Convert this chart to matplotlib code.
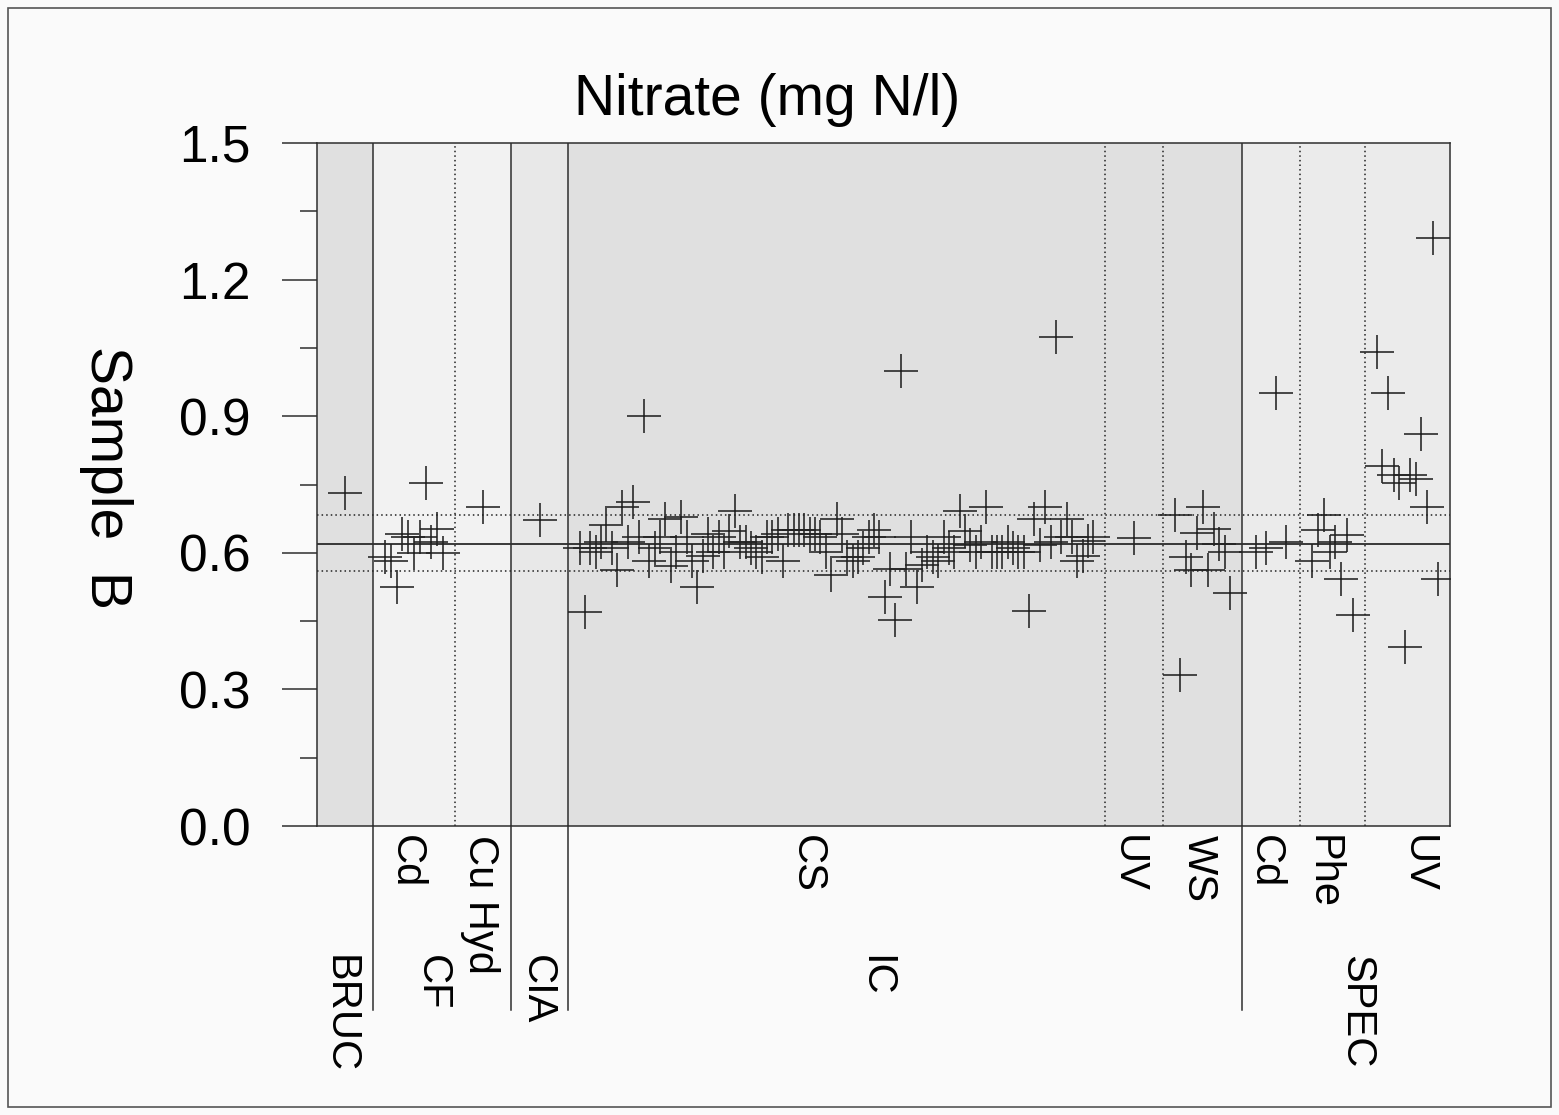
import matplotlib
matplotlib.use('Agg')
import matplotlib.pyplot as plt
import matplotlib.transforms as mtransforms
from matplotlib.patches import Rectangle
import numpy as np

plt.rcParams['font.family'] = ['Liberation Sans', 'DejaVu Sans']

# ---------------- data ----------------
title = 'Nitrate (mg N/l)'
ylabel = 'Sample  B'
group_names = ['BRUC', 'CF', 'CIA', 'IC', 'SPEC']
sub_groups = ['BRUC', 'CF', 'CF', 'CIA', 'IC', 'IC', 'IC', 'SPEC', 'SPEC', 'SPEC']
sub_labels = ['', 'Cd', 'Cu Hyd', '', 'CS', 'UV', 'WS', 'Cd', 'Phe', 'UV']

values_bruc = [0.732]
values_cf_cd = [0.590, 0.582, 0.525, 0.641, 0.635, 0.600, 0.635, 0.753, 0.624, 0.652, 0.600]
values_cf_cuhyd = [0.701]
values_cia = [0.672]
values_ic_cs = [0.611, 0.470, 0.611, 0.601, 0.624, 0.661, 0.611, 0.563, 0.701, 0.624,
                0.711, 0.634, 0.900, 0.583, 0.611, 0.634, 0.674, 0.571, 0.602, 0.679,
                0.634, 0.582, 0.524, 0.593, 0.641, 0.602, 0.634, 0.602, 0.648, 0.692,
                0.624, 0.624, 0.611, 0.601, 0.591, 0.634, 0.634, 0.641, 0.583, 0.650,
                0.650, 0.650, 0.650, 0.641, 0.641, 0.634, 0.601, 0.551, 0.674, 0.641,
                0.591, 0.582, 0.591, 0.611, 0.634, 0.650, 0.634, 0.503, 0.564, 0.453,
                1.000, 0.564, 0.634, 0.525, 0.573, 0.602, 0.591, 0.582, 0.634, 0.611,
                0.602, 0.692, 0.648, 0.617, 0.602, 0.624, 0.701, 0.602, 0.602, 0.602,
                0.624, 0.611, 0.602, 0.601, 0.472, 0.674, 0.617, 0.701, 0.624, 1.073,
                0.634, 0.674, 0.634, 0.583, 0.592, 0.627, 0.634]
values_ic_uv = [0.633]
values_ic_ws = [0.682, 0.332, 0.591, 0.563, 0.643, 0.701, 0.563, 0.652, 0.619, 0.602, 0.511]
values_spec_cd = [0.602, 0.611, 0.952, 0.623]
values_spec_phe = [0.582, 0.651, 0.682, 0.602, 0.623, 0.542, 0.640, 0.463]
values_spec_uv = [1.040, 0.791, 0.952, 0.771, 0.753, 0.393, 0.771, 0.762, 0.862, 0.701, 1.291, 0.543]

assigned_value = 0.620
lower_limit = 0.559
upper_limit = 0.684

y_ticks = [0.0, 0.3, 0.6, 0.9, 1.2, 1.5]
y_tick_labels = ['0.0', '0.3', '0.6', '0.9', '1.2', '1.5']
y_minor_ticks = [0.15, 0.45, 0.75, 1.05, 1.35]

sub_values = [values_bruc, values_cf_cd, values_cf_cuhyd, values_cia, values_ic_cs,
              values_ic_uv, values_ic_ws, values_spec_cd, values_spec_phe, values_spec_uv]

# ---------------- layout (not data) ----------------
sub_widths = [56, 82, 56, 57, 537, 58, 79, 58, 65, 85]
# horizontal shift (px) of the rotated labels relative to the section centre
sub_label_shift = [0, -8, -3, 0, -30, -6, -4, -6, -10, 10]
group_label_shift = [-5, -10, -3, -30, 10]
group_colors = {'BRUC': '#e0e0e0', 'CF': '#f2f2f2', 'CIA': '#e8e8e8', 'IC': '#e0e0e0', 'SPEC': '#ebebeb'}
PAD = 9
W, H = 1559, 1115
AX_L, AX_R, AX_T, AX_B = 317, 1450, 143, 826

fig = plt.figure(figsize=(W / 100, H / 100), dpi=100, facecolor='#fafafa')
ax = fig.add_axes([AX_L / W, 1 - AX_B / H, (AX_R - AX_L) / W, (AX_B - AX_T) / H])
ax.set_facecolor('#fafafa')

edges = np.concatenate([[0], np.cumsum(sub_widths)])
total = edges[-1]
ax.set_xlim(0, total)
ax.set_ylim(0, 1.5)

trans = mtransforms.blended_transform_factory(ax.transData, ax.transAxes)
line_col = '#2e2e2e'
dots = (0, (1, 2))

# group backgrounds
for g in group_names:
    idx = [i for i, s in enumerate(sub_groups) if s == g]
    ax.axvspan(edges[idx[0]], edges[idx[-1] + 1], color=group_colors[g], lw=0, zorder=0)

# reference lines
ax.axhline(assigned_value, color='#1a1a1a', lw=1.2, zorder=2)
for v in (lower_limit, upper_limit):
    ax.axhline(v, color='#222222', lw=1.1, ls=dots, zorder=2)

# separators
for i in range(1, len(sub_widths)):
    x = edges[i]
    if sub_groups[i] != sub_groups[i - 1]:
        ax.plot([x, x], [0, 1], transform=trans, color=line_col, lw=1.1, zorder=2)
        ax.plot([x, x], [0, -(1010 - AX_B) / (AX_B - AX_T)], transform=trans,
                color=line_col, lw=1.1, clip_on=False, zorder=2)
    else:
        ax.plot([x, x], [0, 1], transform=trans, color='#222222', lw=1.1,
                ls=dots, zorder=2)

# points
for i, vals in enumerate(sub_values):
    n = len(vals)
    left, w = edges[i], sub_widths[i]
    if n == 1:
        xs = [left + w / 2]
    else:
        step = (w - 2 * PAD) / n
        xs = [left + PAD + (k + 0.5) * step for k in range(n)]
    ax.plot(xs, vals, ls='none', marker='+', ms=25, mew=1.15, color='#222222', zorder=3)

# axes styling
for sp in ax.spines.values():
    sp.set_color(line_col)
    sp.set_linewidth(1.1)
ax.set_xticks([])
ax.set_yticks(y_ticks)
ax.set_yticklabels(y_tick_labels, fontsize=37)
ax.set_yticks(y_minor_ticks, minor=True)
ax.tick_params(axis='y', which='major', length=25, width=1.1, pad=23, color=line_col)
ax.tick_params(axis='y', which='minor', length=12, width=1.1, color=line_col)

# sub labels and group labels
for i, lab in enumerate(sub_labels):
    if lab:
        xc = edges[i] + sub_widths[i] / 2 + sub_label_shift[i]
        ax.text(xc, -(835 - AX_B) / (AX_B - AX_T), lab, rotation=270, ha='center', va='top',
                fontsize=30, transform=trans)
for j, g in enumerate(group_names):
    idx = [i for i, s in enumerate(sub_groups) if s == g]
    xc = (edges[idx[0]] + edges[idx[-1] + 1]) / 2 + group_label_shift[j]
    ax.text(xc, -(955 - AX_B) / (AX_B - AX_T), g, rotation=270, ha='center', va='top',
            fontsize=30, transform=trans)

fig.text(767 / W, 1 - 100 / H, title, ha='center', va='center', fontsize=41)
fig.text(106 / W, 1 - 478 / H, ylabel, rotation=270, ha='center', va='center', fontsize=41)

fig.patches.append(Rectangle((8 / W, 8 / H), (W - 16) / W, (H - 16) / H, transform=fig.transFigure,
                             fill=False, ec='#555555', lw=1.2))

fig.savefig('out.png', dpi=100, facecolor='#fafafa')
